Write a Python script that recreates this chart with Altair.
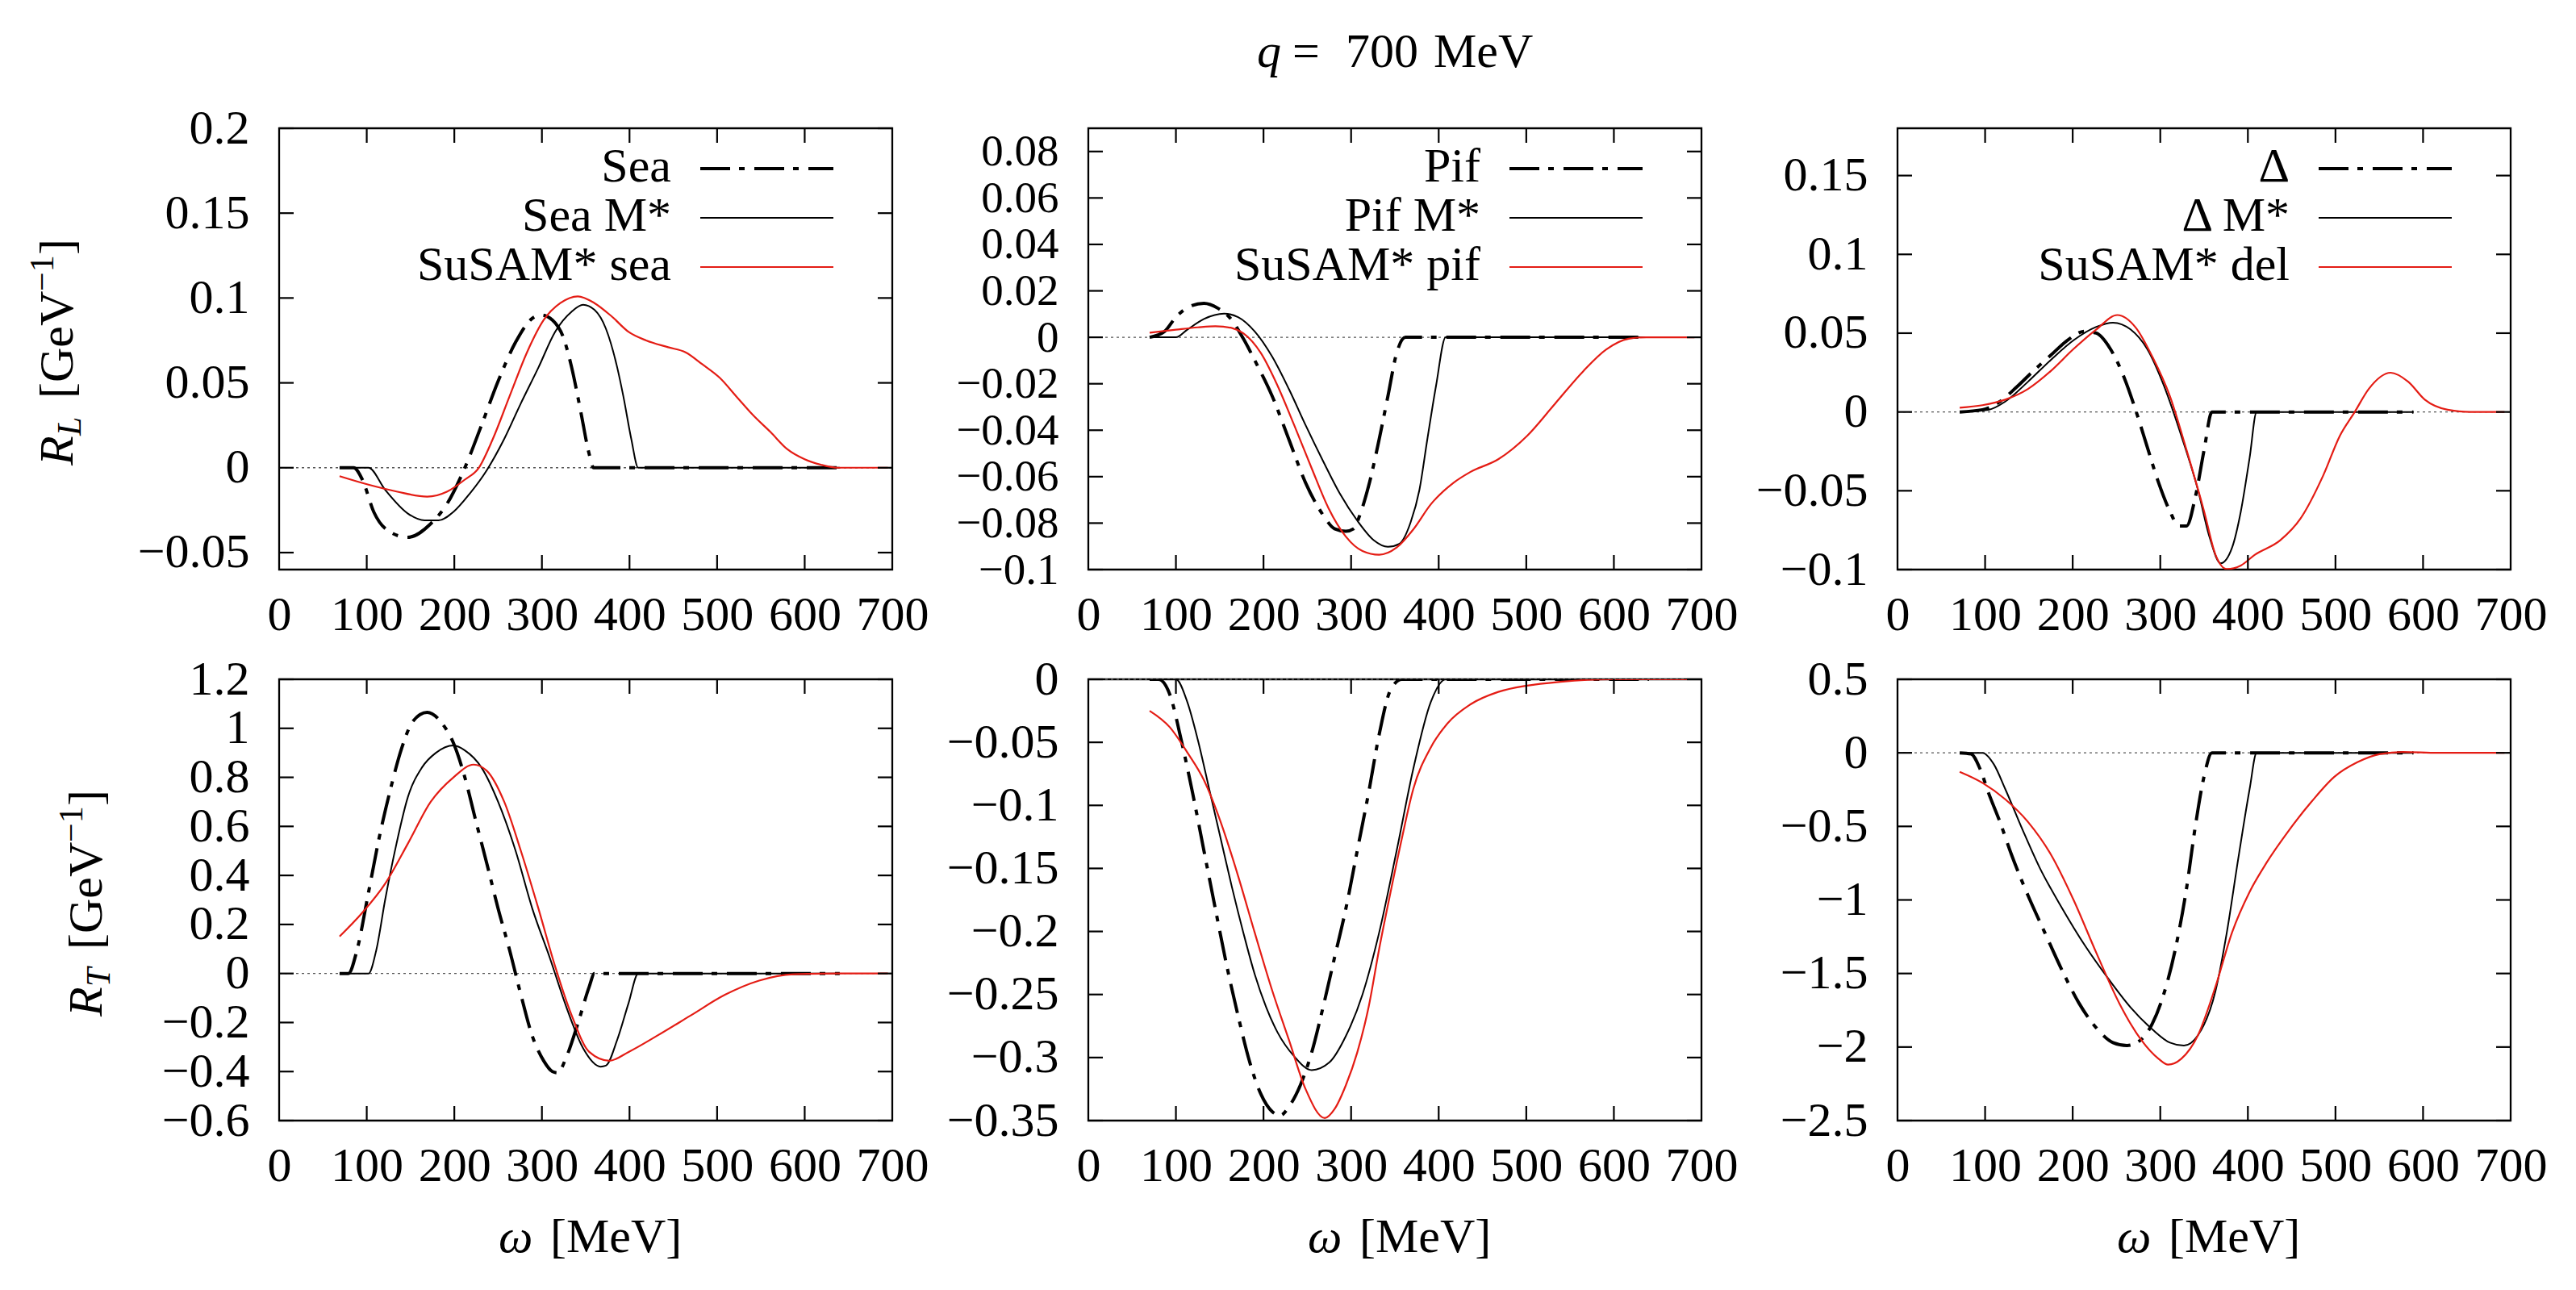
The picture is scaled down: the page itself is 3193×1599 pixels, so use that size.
import altair as alt
import pandas as pd

FONT = "Liberation Serif"
RED = "#e41c14"
W, H = 760, 547

# (omega [MeV], response [GeV^-1])
SEA_L_DD = [(69, 0), (85, 0), (95, -0.007), (108, -0.026), (127, -0.038), (147, -0.041), (173, -0.033),
            (192, -0.021), (212, 0.0), (231, 0.025), (250, 0.051), (270, 0.074), (289, 0.088), (299, 0.090),
            (312, 0.087), (325, 0.076), (334, 0.059), (344, 0.034), (354, 0.008), (359, 0.0), (640, 0.0)]
SEA_L_M = [(69, 0), (102, 0), (121, -0.013), (147, -0.027), (166, -0.031), (182, -0.031), (199, -0.026),
           (218, -0.015), (237, -0.0015), (257, 0.017), (276, 0.038), (296, 0.059), (315, 0.080), (334, 0.092),
           (347, 0.096), (360, 0.093), (373, 0.082), (386, 0.059), (393, 0.042), (402, 0.017), (410, 0.0),
           (640, 0.0)]
SEA_L_S = [(69, -0.005), (102, -0.010), (134, -0.014), (169, -0.017), (192, -0.014), (212, -0.007), (228, 0.0),
           (244, 0.017), (263, 0.042), (283, 0.068), (302, 0.087), (321, 0.097), (341, 0.101), (360, 0.097),
           (380, 0.089), (399, 0.080), (419, 0.075), (444, 0.071), (464, 0.068), (483, 0.061), (503, 0.053),
           (522, 0.042), (541, 0.031), (561, 0.021), (580, 0.011), (600, 0.005), (619, 0.0017), (638, 0.0),
           (695, 0.0)]

PIF_L_DD = [(70, 0), (87, 0.0025), (100, 0.0087), (116, 0.0133), (132, 0.0146), (148, 0.0125), (161, 0.0087),
            (177, -0.0006), (190, -0.0099), (210, -0.0254), (229, -0.044), (248, -0.0626), (268, -0.0765),
            (281, -0.0824), (294, -0.0835), (303, -0.0824), (310, -0.0765), (320, -0.064), (332, -0.044),
            (342, -0.0254), (352, -0.0068), (362, 0), (637, 0)]
PIF_L_M = [(70, 0), (100, 0), (113, 0.0033), (132, 0.0079), (155, 0.0102), (171, 0.0087), (190, 0.0025),
           (210, -0.0084), (229, -0.0223), (248, -0.0378), (268, -0.0533), (287, -0.0672), (307, -0.0789),
           (326, -0.0874), (342, -0.0902), (355, -0.0889), (368, -0.0796), (378, -0.0657), (387, -0.044),
           (397, -0.0208), (408, 0), (637, 0)]
PIF_L_S = [(70, 0.002), (100, 0.0033), (125, 0.0043), (145, 0.0048), (164, 0.004), (177, 0.0017),
           (197, -0.0068), (216, -0.0208), (235, -0.0378), (255, -0.0564), (274, -0.0734), (294, -0.0858),
           (313, -0.092), (332, -0.0936), (352, -0.0905), (371, -0.0827), (391, -0.0719), (417, -0.0626),
           (436, -0.058), (468, -0.0525), (501, -0.0424), (533, -0.0285), (565, -0.0146), (591, -0.0053),
           (617, -0.0006), (637, 0), (692, 0)]

DEL_L_DD = [(71, 0), (97, 0.0014), (117, 0.0066), (136, 0.0158), (155, 0.026), (175, 0.036), (194, 0.0455),
            (214, 0.0512), (227, 0.050), (243, 0.040), (259, 0.0215), (272, 0.001), (285, -0.022),
            (298, -0.0448), (311, -0.063), (321, -0.0723), (330, -0.0723), (340, -0.054), (350, -0.0242),
            (359, 0), (589, 0)]
DEL_L_M = [(71, 0), (104, 0.0014), (123, 0.0066), (149, 0.0192), (175, 0.033), (201, 0.0455), (227, 0.054),
           (246, 0.0567), (266, 0.0524), (285, 0.040), (304, 0.0169), (324, -0.0151), (343, -0.0494),
           (356, -0.079), (369, -0.096), (382, -0.086), (392, -0.063), (402, -0.029), (410, 0), (589, 0)]
DEL_L_S = [(71, 0.0027), (97, 0.0043), (123, 0.0078), (149, 0.0146), (175, 0.026), (201, 0.040),
           (227, 0.0524), (251, 0.0615), (272, 0.0535), (291, 0.035), (311, 0.010), (330, -0.0242),
           (350, -0.063), (363, -0.0906), (376, -0.0997), (392, -0.0974), (408, -0.0906), (437, -0.0814),
           (460, -0.0677), (486, -0.0403), (505, -0.0151), (522, 0), (538, 0.0146), (563, 0.0249),
           (583, 0.0192), (602, 0.0078), (628, 0.0014), (654, 0), (693, 0)]

SEA_T_DD = [(69, 0), (79, 0), (89, 0.097), (102, 0.33), (114, 0.55), (127, 0.75), (140, 0.92), (153, 1.03),
            (169, 1.065), (186, 1.02), (199, 0.94), (212, 0.80), (224, 0.63), (237, 0.45), (250, 0.265),
            (263, 0.097), (276, -0.087), (289, -0.255), (302, -0.356), (312, -0.40), (318, -0.405),
            (328, -0.34), (341, -0.205), (354, -0.054), (360, 0), (640, 0)]
SEA_T_M = [(69, 0), (102, 0), (111, 0.097), (121, 0.30), (134, 0.53), (147, 0.72), (163, 0.84), (179, 0.90),
           (199, 0.93), (212, 0.91), (231, 0.84), (250, 0.70), (270, 0.50), (289, 0.265), (309, 0.064),
           (328, -0.138), (347, -0.305), (367, -0.38), (373, -0.376), (386, -0.27), (399, -0.12), (410, 0),
           (640, 0)]
SEA_T_S = [(69, 0.151), (95, 0.248), (121, 0.366), (147, 0.53), (173, 0.70), (199, 0.80), (222, 0.852),
           (237, 0.827), (257, 0.70), (276, 0.50), (296, 0.265), (315, 0.03), (334, -0.171), (354, -0.32),
           (377, -0.356), (399, -0.32), (431, -0.255), (470, -0.171), (509, -0.087), (548, -0.029),
           (587, -0.003), (638, 0), (695, 0)]

PIF_T_DD = [(70, 0), (80, 0), (93, -0.012), (106, -0.048), (119, -0.09), (132, -0.136), (145, -0.182),
            (158, -0.227), (171, -0.267), (184, -0.303), (197, -0.329), (210, -0.343), (219, -0.346),
            (229, -0.339), (242, -0.322), (255, -0.296), (268, -0.26), (281, -0.221), (294, -0.182),
            (307, -0.136), (320, -0.09), (332, -0.044), (345, -0.0085), (358, 0), (640, 0)]
PIF_T_M = [(70, 0), (100, 0), (113, -0.018), (125, -0.048), (138, -0.087), (151, -0.126), (164, -0.165),
           (177, -0.201), (190, -0.234), (203, -0.26), (216, -0.28), (235, -0.299), (255, -0.31),
           (275, -0.304), (294, -0.283), (313, -0.25), (332, -0.201), (352, -0.136), (371, -0.071),
           (391, -0.018), (408, 0), (640, 0)]
PIF_T_S = [(70, -0.025), (93, -0.038), (113, -0.058), (132, -0.080), (151, -0.113), (171, -0.156),
           (190, -0.201), (210, -0.247), (229, -0.286), (248, -0.325), (270, -0.348), (281, -0.341),
           (294, -0.322), (307, -0.296), (320, -0.26), (332, -0.214), (345, -0.169), (358, -0.126),
           (371, -0.087), (391, -0.054), (410, -0.035), (436, -0.02), (468, -0.010), (501, -0.005),
           (539, -0.002), (598, 0), (695, 0)]

DEL_T_DD = [(71, 0), (84, -0.008), (94, -0.106), (104, -0.274), (117, -0.47), (130, -0.69), (149, -0.97),
            (168, -1.22), (188, -1.48), (207, -1.70), (227, -1.87), (246, -1.97), (262, -1.99), (278, -1.95),
            (291, -1.84), (304, -1.64), (317, -1.34), (330, -0.92), (340, -0.50), (350, -0.16), (359, 0),
            (589, 0)]
DEL_T_M = [(71, 0), (97, 0), (110, -0.078), (123, -0.246), (143, -0.526), (162, -0.777), (188, -1.057),
           (214, -1.31), (240, -1.53), (266, -1.73), (291, -1.88), (311, -1.97), (327, -1.99), (343, -1.92),
           (363, -1.62), (376, -1.22), (389, -0.72), (402, -0.246), (410, 0), (589, 0)]
DEL_T_S = [(71, -0.129), (97, -0.204), (123, -0.316), (149, -0.47), (175, -0.69), (201, -1.0), (227, -1.36),
           (253, -1.70), (278, -1.95), (298, -2.08), (309, -2.12), (324, -2.08), (343, -1.92), (363, -1.59),
           (382, -1.22), (402, -0.945), (421, -0.75), (447, -0.526), (473, -0.33), (499, -0.162),
           (525, -0.064), (551, -0.008), (577, 0.006), (617, 0), (693, 0)]

X_TICKS = [0, 100, 200, 300, 400, 500, 600, 700]
Y_TICKS_SEA_L = [-0.05, 0, 0.05, 0.1, 0.15, 0.2]
Y_TICKS_PIF_L = [-0.1, -0.08, -0.06, -0.04, -0.02, 0, 0.02, 0.04, 0.06, 0.08]
Y_TICKS_DEL_L = [-0.1, -0.05, 0, 0.05, 0.1, 0.15]
Y_TICKS_SEA_T = [-0.6, -0.4, -0.2, 0, 0.2, 0.4, 0.6, 0.8, 1, 1.2]
Y_TICKS_PIF_T = [-0.35, -0.3, -0.25, -0.2, -0.15, -0.1, -0.05, 0]
Y_TICKS_DEL_T = [-2.5, -2, -1.5, -1, -0.5, 0, 0.5]

STYLES = [
    dict(color="black", strokeWidth=4, strokeDash=[37, 11, 7, 12]),
    dict(color="black", strokeWidth=2),
    dict(color=RED, strokeWidth=2.2),
]

ONE = pd.DataFrame({"k": [0]})


def txt(s, x, y, size=60, style="normal", angle=0, align="left", baseline="alphabetic"):
    return alt.Chart(ONE).mark_text(
        text=s, font=FONT, fontSize=size, fontStyle=style, angle=angle,
        align=align, baseline=baseline, color="black"
    ).encode(x=alt.value(x), y=alt.value(y))


def ytitle(sub, xb):
    # R_sub [GeV^-1], written bottom-to-top
    segs = [("R", 60, "italic", 0, 37), (sub, 42, "italic", 10, 46),
            ("[GeV", 60, "normal", 0, 133), ("\u22121", 42, "normal", -24, 45), ("]", 60, "normal", 0, 20)]
    total = sum(s[4] for s in segs)
    y0 = H / 2 + total / 2 + 4
    out, pos = [], 0
    for s, size, style, shift, adv in segs:
        out.append(txt(s, xb + shift, y0 - pos, size=size, style=style, angle=270))
        pos += adv
    return out


def panel(curves, ydom, yticks, labels, sub, yt_x, xtitle=False, top_title=False, ylab_size=60):
    xs = alt.Scale(domain=[0, 700], nice=False, zero=False)
    ys = alt.Scale(domain=ydom, nice=False, zero=False)
    xax = alt.Axis(values=X_TICKS, format="d", title=None, labelPadding=27)
    yax = alt.Axis(values=yticks, format="~g", title=None, labelPadding=37, labelFontSize=ylab_size)
    layers = []

    zero = pd.DataFrame({"w": [0], "w2": [700], "v": [0]})
    layers.append(alt.Chart(zero).mark_rule(color="#555555", strokeWidth=1.4, strokeDash=[3, 4]).encode(
        x=alt.X("w:Q", scale=xs, axis=xax), x2="w2:Q", y=alt.Y("v:Q", scale=ys, axis=yax)))

    for pairs, st in zip(curves, STYLES):
        df = pd.DataFrame(pairs, columns=["w", "v"])
        layers.append(alt.Chart(df).mark_line(interpolate="monotone", clip=True, **st).encode(
            x=alt.X("w:Q", scale=xs, axis=xax), y=alt.Y("v:Q", scale=ys, axis=yax)))

    # inward ticks on all four sides
    xt = pd.DataFrame({"w": X_TICKS[1:-1]})
    for y0, y1 in ((H, H - 18), (0, 18)):
        layers.append(alt.Chart(xt).mark_rule(color="black", strokeWidth=2.2).encode(
            x=alt.X("w:Q", scale=xs, axis=xax), y=alt.value(y0), y2=alt.value(y1)))
    yt = pd.DataFrame({"v": yticks})
    for x0, x1 in ((0, 18), (W, W - 18)):
        layers.append(alt.Chart(yt).mark_rule(color="black", strokeWidth=2.2).encode(
            y=alt.Y("v:Q", scale=ys, axis=yax), x=alt.value(x0), x2=alt.value(x1)))

    # key: text right-aligned, line sample to its right
    if labels:
        for i, (lab, st) in enumerate(zip(labels, STYLES)):
            ry = 50 + 61 * i
            layers.append(txt(lab, 486, ry - 2, align="right", baseline="middle"))
            layers.append(alt.Chart(ONE).mark_rule(**st).encode(
                x=alt.value(522), x2=alt.value(687), y=alt.value(ry)))

    if sub:
        layers += ytitle(sub, yt_x)
    if xtitle:
        layers.append(txt("\u03c9", 272, H + 163, style="italic"))
        layers.append(txt("[MeV]", 336, H + 163))
    if top_title:
        layers.append(txt("q", 209, -76, style="italic"))
        layers.append(txt("=", 253, -76))
        layers.append(txt("700", 319, -76))
        layers.append(txt("MeV", 428, -76))

    return alt.layer(*layers).properties(width=W, height=H)


p1 = panel([SEA_L_DD, SEA_L_M, SEA_L_S], [-0.06, 0.2], Y_TICKS_SEA_L,
           ["Sea", "Sea M*", "SuSAM* sea"], "L", -256)
p2 = panel([PIF_L_DD, PIF_L_M, PIF_L_S], [-0.1, 0.09], Y_TICKS_PIF_L,
           ["Pif", "Pif M*", "SuSAM* pif"], None, 0, top_title=True, ylab_size=55)
p3 = panel([DEL_L_DD, DEL_L_M, DEL_L_S], [-0.1, 0.18], Y_TICKS_DEL_L,
           ["\u0394", "\u0394 M*", "SuSAM* del"], None, 0)
p4 = panel([SEA_T_DD, SEA_T_M, SEA_T_S], [-0.6, 1.2], Y_TICKS_SEA_T, None, "T", -220, xtitle=True)
p5 = panel([PIF_T_DD, PIF_T_M, PIF_T_S], [-0.35, 0], Y_TICKS_PIF_T, None, None, 0, xtitle=True)
p6 = panel([DEL_T_DD, DEL_T_M, DEL_T_S], [-2.5, 0.5], Y_TICKS_DEL_T, None, None, 0, xtitle=True)

chart = alt.concat(
    p1, p2, p3, p4, p5, p6, columns=3, bounds="flush",
    spacing={"row": 136, "column": 243},
).properties(
    padding={"left": 22, "top": 25, "right": 20, "bottom": 10},
    background="white",
).configure_view(
    stroke="black", strokeWidth=2.3
).configure_axis(
    labelFont=FONT, labelFontSize=60, labelColor="black",
    ticks=False, tickSize=0, domain=False, grid=False,
    labelFlush=False, labelOverlap=False, labelBound=False,
)

chart.save("out.html", embed_options={"renderer": "svg", "actions": False})
